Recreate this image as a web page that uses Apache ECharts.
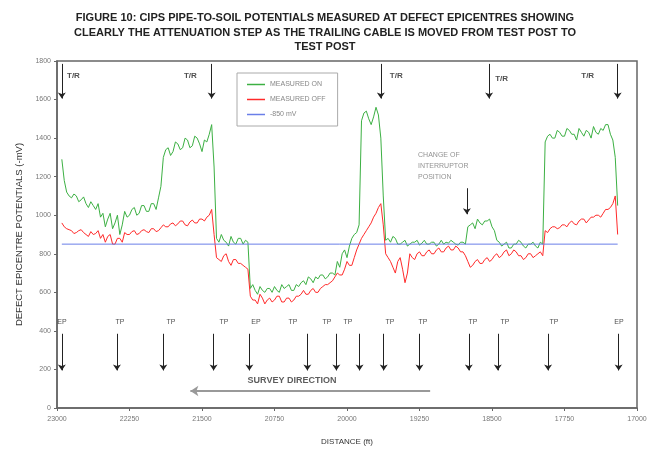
<!DOCTYPE html>
<html>
<head>
<meta charset="utf-8">
<script src="https://cdn.jsdelivr.net/npm/echarts@6/dist/echarts.min.js"></script>
<style>
  html, body { margin: 0; padding: 0; background: #fff; }
  #main { width: 652px; height: 451px; }
</style>
</head>
<body>
<div id="main"></div>
<script>
// sampling grid of the survey (ft), every 25 ft from 22950 down to 17200
var startDist = 22950;
var stepDist = 25;

// potentials (-mV)
var onVals = [
  1290, 1180, 1120, 1100, 1090, 1110, 1100, 1070, 1080, 1095,
  1060, 1040, 1070, 1050, 1030, 1060, 990, 1010, 940, 980,
  1010, 930, 960, 1000, 900, 950, 1020, 990, 1000, 1030,
  1040, 1000, 1010, 1050, 1050, 1020, 1020, 1060, 1060, 1030,
  1090, 1150, 1300, 1340, 1350, 1310, 1330, 1380, 1370, 1340,
  1350, 1400, 1390, 1350, 1360, 1410, 1400, 1370, 1330, 1390,
  1380, 1420, 1470, 1250, 880, 860, 900, 870, 860, 840,
  890, 860, 850, 880, 880, 850, 870, 860, 620, 640,
  610, 590, 630, 610, 600, 620, 620, 600, 630, 610,
  600, 640, 620, 630, 640, 610, 610, 640, 630, 650,
  660, 640, 680, 670, 650, 680, 670, 690, 690, 670,
  680, 700, 700, 690, 760, 730, 800, 820, 780, 840,
  880, 900, 910, 950, 1490, 1530, 1540, 1500, 1470, 1510,
  1560, 1520, 1400, 1100, 870, 880, 860, 890, 880, 850,
  850, 860, 870, 840, 850, 860, 860, 870, 845, 855,
  870, 850, 850, 860, 860, 840, 850, 870, 850, 860,
  855, 870, 860, 850, 845, 860, 860, 850, 940, 950,
  960, 930, 980, 960, 950, 970, 970, 980, 940, 920,
  870, 860, 840, 850, 860, 830, 830, 850, 850, 870,
  860, 840, 830, 850, 850, 860, 840, 830, 860, 850,
  1380, 1410, 1420, 1400, 1400, 1440, 1430, 1410, 1410, 1450,
  1440, 1420, 1420, 1390, 1450, 1430, 1410, 1440, 1430, 1400,
  1460, 1430, 1420, 1450, 1440, 1470, 1470, 1420, 1390, 1300,
  1050
];
var offVals = [
  960, 940, 930, 925, 920, 905, 910, 920, 925, 910,
  900, 890, 915, 900, 905, 920, 880, 900, 860, 890,
  900, 850, 850, 880, 880, 860, 910, 900, 900, 915,
  920, 900, 905, 920, 925, 915, 910, 930, 930, 915,
  920, 935, 950, 940, 940, 955, 960, 945, 955, 970,
  970, 950, 945, 965, 975, 960, 960, 980, 980, 970,
  990, 1000, 1030, 900, 780, 770, 760, 790, 800, 760,
  740, 770, 770, 750, 750, 740, 730, 720, 580, 560,
  560, 540, 590, 570, 540, 560, 570, 550, 560, 580,
  580, 550, 550, 570, 570, 550, 560, 580, 580, 590,
  610, 590, 590, 610, 620, 600, 600, 620, 630, 640,
  640, 650, 660, 680, 700, 690, 690, 720, 760, 740,
  740, 780, 820, 850, 880, 900, 920, 940, 960, 990,
  1010, 1040, 1060, 950, 800, 780, 760, 730, 700, 760,
  780, 720, 650, 700, 800, 780, 770, 800, 810, 790,
  790, 810, 820, 800, 800, 820, 830, 810, 810, 830,
  840, 820, 820, 840, 830, 810, 810, 790, 760, 730,
  740, 760, 770, 750, 750, 770, 780, 760, 770, 790,
  800, 780, 790, 810, 820, 790, 800, 820, 810, 790,
  790, 770, 780, 800, 800, 780, 790, 800, 810, 790,
  920, 910, 930, 940, 940, 930, 935, 950, 950, 940,
  960, 970, 955, 950, 970, 980, 980, 960, 975, 990,
  990, 1000, 1000, 990, 1010, 1030, 1030, 1040, 1060, 1100,
  900
];
var criterion = 850;

var xTicks = [17000, 17750, 18500, 19250, 20000, 20750, 21500, 22250, 23000];

// annotation positions (ft) and texts
var trArrowDist = [22950, 21400, 19650, 18530, 17200];
var trLabels = [[22830, 1725, 'T/R'], [21620, 1725, 'T/R'], [19490, 1725, 'T/R'], [18400, 1710, 'T/R'], [17510, 1725, 'T/R']];
var tpArrowDist = [22950, 22380, 21900, 21380, 21010, 20410, 20110, 19870, 19620, 19250, 18740, 18440, 17920, 17190];
var tpLabelDist = [22948, 22348, 21821, 21272, 20941, 20559, 20207, 19990, 19555, 19214, 18697, 18366, 17859, 17186];
var tpNames = ['EP', 'TP', 'TP', 'TP', 'EP', 'TP', 'TP', 'TP', 'TP', 'TP', 'TP', 'TP', 'TP', 'EP'];
var noteLines = ['CHANGE OF', 'INTERRUPTOR', 'POSITION'];

var font = 'Liberation Sans, Arial, sans-serif';

var onData = [], offData = [];
for (var i = 0; i < onVals.length; i++) {
  var d = startDist - i * stepDist;
  onData.push([d, onVals[i]]);
  offData.push([d, offVals[i]]);
}
var lastDist = startDist - (onVals.length - 1) * stepDist;

// arrows
var arrowData = [];
trArrowDist.forEach(function (d) {
  arrowData.push({ coords: [[d, 1785], [d, 1605]] });
});
tpArrowDist.forEach(function (d) {
  arrowData.push({ coords: [[d, 385], [d, 195]] });
});
arrowData.push({ coords: [[18760, 1140], [18760, 1005]] });

// text labels
var textData = [];
trLabels.forEach(function (t) {
  textData.push({ value: [t[0], t[1]], name: t[2], label: { fontWeight: 'bold', fontSize: 8 } });
});
tpNames.forEach(function (n, i) {
  textData.push({ value: [tpLabelDist[i], 445], name: n });
});
noteLines.forEach(function (n, i) {
  textData.push({ value: [19265, 1314 - i * 57], name: n, label: { align: 'left', color: '#777', fontSize: 7 } });
});
textData.push({ value: [20569, 145], name: 'SURVEY DIRECTION', label: { fontWeight: 'bold', fontSize: 9, color: '#333' } });

var chart = echarts.init(document.getElementById('main'));

var option = {
  backgroundColor: '#fff',
  animation: false,
  title: {
    text: 'FIGURE 10: CIPS PIPE-TO-SOIL POTENTIALS MEASURED AT DEFECT EPICENTRES SHOWING\nCLEARLY THE ATTENUATION STEP AS THE TRAILING CABLE IS MOVED FROM TEST POST TO\nTEST POST',
    left: 320,
    textAlign: 'center',
    top: 6,
    textStyle: { fontFamily: font, fontSize: 11, fontWeight: 'bold', color: '#222', lineHeight: 14.5 }
  },
  legend: {
    orient: 'vertical',
    left: 237,
    top: 73,
    data: ['MEASURED ON', 'MEASURED OFF', '-850 mV'],
    icon: 'rect',
    borderColor: '#aaa',
    borderWidth: 1,
    padding: [8, 12, 8, 10],
    itemGap: 8,
    itemWidth: 18,
    itemHeight: 1.5,
    textStyle: { fontFamily: font, fontSize: 7, color: '#888' }
  },
  grid: {
    left: 57, right: 15, top: 61, bottom: 42,
    show: true,
    borderColor: '#666',
    borderWidth: 1.5
  },
  xAxis: {
    type: 'value',
    min: 17000,
    max: 23000,
    inverse: true,
    name: 'DISTANCE (ft)',
    nameLocation: 'middle',
    nameGap: 30,
    nameTextStyle: { fontFamily: font, fontSize: 8, color: '#333' },
    axisLine: { lineStyle: { color: '#666', width: 1.5 } },
    axisTick: { customValues: xTicks, length: 3, lineStyle: { color: '#666' } },
    axisLabel: {
      customValues: xTicks, fontFamily: font, fontSize: 7, color: '#777', margin: 8,
      formatter: function (v) { return String(v); }
    },
    splitLine: { show: false }
  },
  yAxis: {
    type: 'value',
    min: 0,
    max: 1800,
    interval: 200,
    name: 'DEFECT EPICENTRE POTENTIALS (-mV)',
    nameLocation: 'middle',
    nameGap: 32,
    nameTextStyle: { fontFamily: font, fontSize: 9.5, color: '#333' },
    axisLine: { show: true, lineStyle: { color: '#666', width: 1.5 } },
    axisTick: { show: true, length: 3, lineStyle: { color: '#666' } },
    axisLabel: {
      fontFamily: font, fontSize: 7, color: '#777', margin: 6,
      formatter: function (v) { return String(v); }
    },
    splitLine: { show: false }
  },
  series: [
    {
      name: 'MEASURED ON',
      type: 'line',
      data: onData,
      symbol: 'none',
      color: '#3cb043',
      lineStyle: { width: 1 }
    },
    {
      name: 'MEASURED OFF',
      type: 'line',
      data: offData,
      symbol: 'none',
      color: '#ff2a2a',
      lineStyle: { width: 1 }
    },
    {
      name: '-850 mV',
      type: 'line',
      data: [[startDist, criterion], [lastDist, criterion]],
      symbol: 'none',
      color: '#6a7fe8',
      lineStyle: { width: 1 }
    },
    {
      type: 'lines',
      coordinateSystem: 'cartesian2d',
      data: arrowData,
      symbol: ['none', 'arrow'],
      symbolSize: 6,
      lineStyle: { color: '#222', width: 1, opacity: 1 },
      silent: true
    },
    {
      type: 'lines',
      coordinateSystem: 'cartesian2d',
      data: [{ coords: [[19140, 88], [21620, 88]] }],
      symbol: ['none', 'arrow'],
      symbolSize: 8,
      lineStyle: { color: '#999', width: 2, opacity: 1 },
      silent: true
    },
    {
      type: 'scatter',
      data: textData,
      symbolSize: 1,
      itemStyle: { color: 'rgba(0,0,0,0)' },
      silent: true,
      label: {
        show: true,
        position: 'inside',
        formatter: function (p) { return p.name; },
        fontFamily: font,
        fontSize: 7,
        color: '#222'
      }
    }
  ]
};

chart.setOption(option);
</script>
</body>
</html>
